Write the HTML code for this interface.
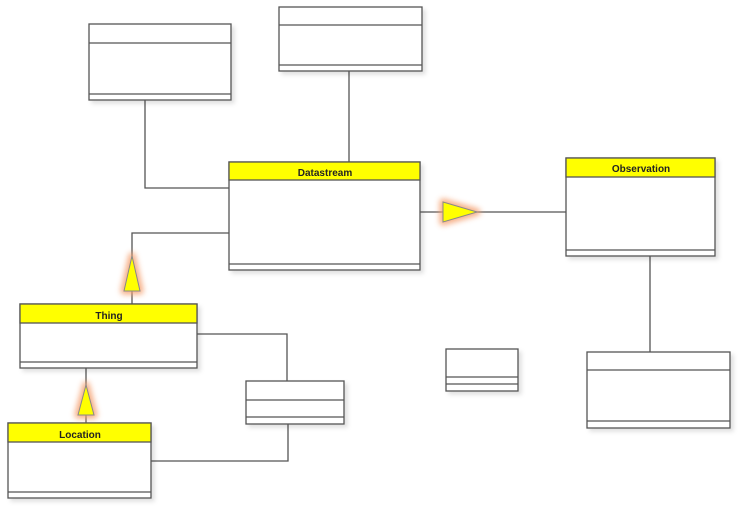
<!DOCTYPE html>
<html><head><style>body{margin:0;background:#fff}svg{display:block}</style></head><body>
<svg width="743" height="514" viewBox="0 0 743 514" xmlns="http://www.w3.org/2000/svg" font-family="Liberation Sans, sans-serif">
<defs>
<filter id="sh" x="-10%" y="-10%" width="130%" height="130%"><feDropShadow dx="3" dy="3" stdDeviation="2" flood-color="#000" flood-opacity="0.12"/></filter>
<filter id="gl" x="-60%" y="-60%" width="220%" height="220%"><feGaussianBlur stdDeviation="3"/></filter>
</defs>
<g stroke="#555" stroke-width="1.3" fill="none">
<polyline points="145,100 145,188 229,188"/>
<line x1="349" y1="71" x2="349" y2="162"/>
<polyline points="229,233 132,233 132,304"/>
<line x1="420" y1="212" x2="566" y2="212"/>
<line x1="650" y1="256" x2="650" y2="352"/>
<polyline points="197,334 287,334 287,381"/>
<line x1="86" y1="368" x2="86" y2="423"/>
<polyline points="151,461 288,461 288,424"/>
</g>
<g fill="#fff" stroke="#555" stroke-width="1.3" filter="url(#sh)">
<rect x="89" y="24" width="142" height="76"/>
<rect x="279" y="7" width="143" height="64"/>
<rect x="229" y="162" width="191" height="108"/>
<rect x="566" y="158" width="149" height="98"/>
<rect x="20" y="304" width="177" height="64"/>
<rect x="8" y="423" width="143" height="75"/>
<rect x="246" y="381" width="98" height="43"/>
<rect x="446" y="349" width="72" height="42"/>
<rect x="587" y="352" width="143" height="76"/>
</g>
<g fill="#ffff00" stroke="#555" stroke-width="1.3">
<rect x="229" y="162" width="191" height="18"/>
<rect x="566" y="158" width="149" height="19"/>
<rect x="20" y="304" width="177" height="19"/>
<rect x="8" y="423" width="143" height="19"/>
</g>
<g stroke="#555" stroke-width="1.3">
<line x1="89" y1="43" x2="231" y2="43"/><line x1="89" y1="94" x2="231" y2="94"/>
<line x1="279" y1="25" x2="422" y2="25"/><line x1="279" y1="65" x2="422" y2="65"/>
<line x1="229" y1="264" x2="420" y2="264"/>
<line x1="566" y1="250" x2="715" y2="250"/>
<line x1="20" y1="362" x2="197" y2="362"/>
<line x1="8" y1="492" x2="151" y2="492"/>
<line x1="246" y1="400" x2="344" y2="400"/><line x1="246" y1="417" x2="344" y2="417"/>
<line x1="446" y1="377" x2="518" y2="377"/><line x1="446" y1="384" x2="518" y2="384"/>
<line x1="587" y1="370" x2="730" y2="370"/><line x1="587" y1="421" x2="730" y2="421"/>
</g>
<g font-size="10" font-weight="bold" fill="#222" text-anchor="middle">
<text x="325" y="176">Datastream</text>
<text x="641" y="172">Observation</text>
<text x="109" y="319">Thing</text>
<text x="80" y="438">Location</text>
</g>
<g fill="#f5a070" stroke="#f5a070" stroke-width="7" stroke-linejoin="round" filter="url(#gl)" opacity="0.85">
<polygon points="132,256 124,291 140,291"/>
<polygon points="86,385 78,415 94,415"/>
<polygon points="443,202 477,212 443,222"/>
</g>
<g fill="#ffff00" stroke="#888" stroke-width="1">
<polygon points="132,256 124,291 140,291"/>
<polygon points="86,385 78,415 94,415"/>
<polygon points="443,202 477,212 443,222"/>
</g>
</svg>
</body></html>
